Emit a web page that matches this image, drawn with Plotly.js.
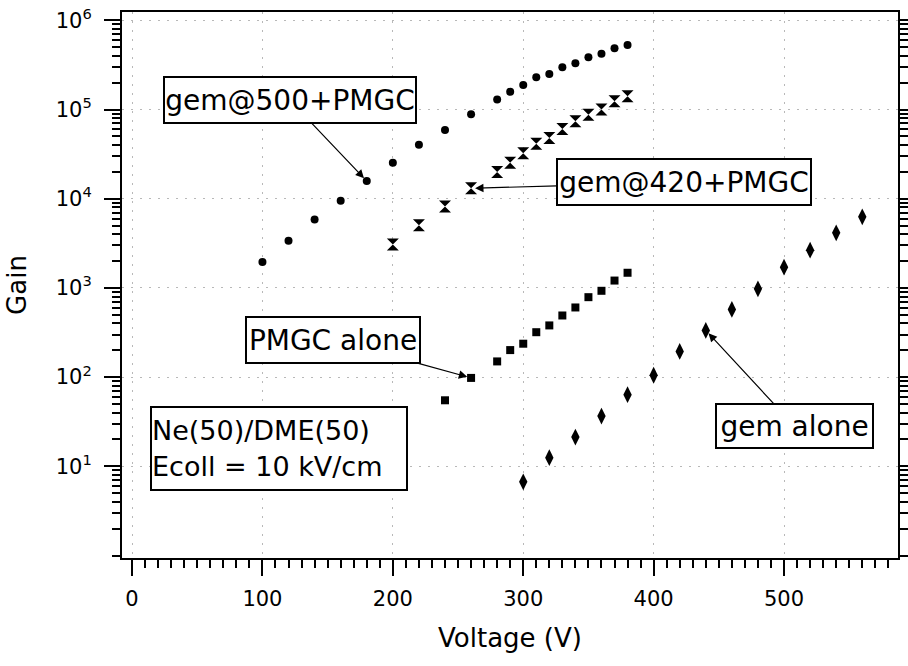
<!DOCTYPE html>
<html>
<head>
<meta charset="utf-8">
<script src="https://cdn.plot.ly/plotly-3.0.1.min.js"></script>
<style>
html,body{margin:0;padding:0;background:#fff;}
#chart{width:908px;height:666px;}
</style>
</head>
<body>
<div id="chart"></div>
<script>
// gem@500+PMGC (circles)
var vGem500 = [100,120,140,160,180,200,220,240,260,280,290,300,310,320,330,340,350,360,370,380];
var gGem500 = [1950,3380,5850,9470,15800,25400,40200,59200,88500,130000,158000,188000,230000,251000,298000,330000,385000,423000,486000,530000];
// gem@420+PMGC (hourglass)
var vGem420 = [200,220,240,260,280,290,300,310,320,330,340,350,360,370,380];
var gGem420 = [3070,5050,8180,13100,20000,25400,32400,41500,48100,60700,73800,87700,100000,124000,141000];
// PMGC alone (squares)
var vPmgc = [240,260,280,290,300,310,320,330,340,350,360,370,380];
var gPmgc = [55,98,150,201,237,319,380,491,604,788,929,1210,1480];
// gem alone (diamonds)
var vGem = [300,320,340,360,380,400,420,440,460,480,500,520,540,560];
var gGem = [6.7,12.5,21.3,36.6,63.5,105,194,334,574,977,1710,2650,4150,6270];

var xTickVals = [0,100,200,300,400,500];
var yTickVals = [10,100,1000,10000,100000,1000000];
var yTickText = ['10<sup>1</sup>','10<sup>2</sup>','10<sup>3</sup>','10<sup>4</sup>','10<sup>5</sup>','10<sup>6</sup>'];

var FONT = 'DejaVu Sans, Liberation Sans, Arial, sans-serif';

function tr(x, y, sym, size) {
  return {
    x: x, y: y, type: 'scatter', mode: 'markers',
    marker: {symbol: sym, size: size, color: '#000', line: {width: 0}},
    showlegend: false, hoverinfo: 'skip'
  };
}

var data = [
  tr(vGem500, gGem500, 'circle', 8),
  tr(vGem420, gGem420, 'hourglass', 12),
  tr(vPmgc, gPmgc, 'square', 8),
  tr(vGem, gGem, 'diamond-tall', 12)
];

function box(text, x, y, ax, ay, w, h) {
  return {
    text: text, x: x, y: Math.log10(y), xref: 'x', yref: 'y',
    showarrow: true, ax: ax, ay: ay, axref: 'pixel', ayref: 'pixel',
    arrowhead: 2, arrowsize: 1.4, arrowwidth: 1.2, arrowcolor: '#000', standoff: 4,
    font: {family: FONT, size: 28, color: '#000'},
    bgcolor: '#fff', bordercolor: '#000', borderwidth: 2, borderpad: 0,
    width: w, height: h, align: 'center'
  };
}

var layout = {
  width: 908, height: 666,
  paper_bgcolor: '#fff', plot_bgcolor: '#fff',
  margin: {l: 122, r: 10, t: 12, b: 108},
  font: {family: FONT, color: '#000'},
  xaxis: {
    range: [-7.7, 587.4], tickvals: xTickVals,
    ticks: 'outside', ticklen: 16, tickwidth: 2, tickcolor: '#000', ticklabelstandoff: 5,
    minor: {dtick: 10, ticks: 'outside', ticklen: 8, tickwidth: 2, tickcolor: '#000', showgrid: false},
    showline: true, linewidth: 2, linecolor: '#000', mirror: true,
    showgrid: true, gridcolor: '#b8b8b8', griddash: '2px,7px', gridwidth: 1,
    zeroline: false,
    tickfont: {family: FONT, size: 21, color: '#000'},
    title: {text: 'Voltage (V)', font: {family: FONT, size: 26, color: '#000'}, standoff: 19}
  },
  yaxis: {
    type: 'log', range: [-0.028, 6.094], tickvals: yTickVals, ticktext: yTickText,
    ticks: 'outside', ticklen: 16, tickwidth: 2, tickcolor: '#000', ticklabelstandoff: 8,
    minor: {dtick: 'D1', ticks: 'outside', ticklen: 8, tickwidth: 2, tickcolor: '#000', showgrid: false},
    showline: true, linewidth: 2, linecolor: '#000', mirror: 'ticks',
    showgrid: true, gridcolor: '#b8b8b8', griddash: '2px,7px', gridwidth: 1,
    zeroline: false,
    tickfont: {family: FONT, size: 21, color: '#000'},
    title: {text: 'Gain', font: {family: FONT, size: 26, color: '#000'}, standoff: 22}
  },
  annotations: [
    box('gem@500+PMGC', 180, 15800, -77, -81, 250, 44),
    box('gem@420+PMGC', 260, 13100, 213, -6, 252, 44),
    box('PMGC alone', 260, 98, -138, -38, 172, 44),
    box('gem alone', 440, 334, 89, 96, 155, 42),
    {
      text: 'Ne(50)/DME(50)<br>Ecoll = 10 kV/cm', x: 112.7, y: 1.196, xref: 'x', yref: 'y',
      showarrow: false, font: {family: FONT, size: 27, color: '#000'},
      bgcolor: '#fff', bordercolor: '#000', borderwidth: 2, borderpad: 0,
      width: 254, height: 81, align: 'left'
    }
  ]
};

Plotly.newPlot('chart', data, layout, {displayModeBar: false, staticPlot: true});
</script>
</body>
</html>
